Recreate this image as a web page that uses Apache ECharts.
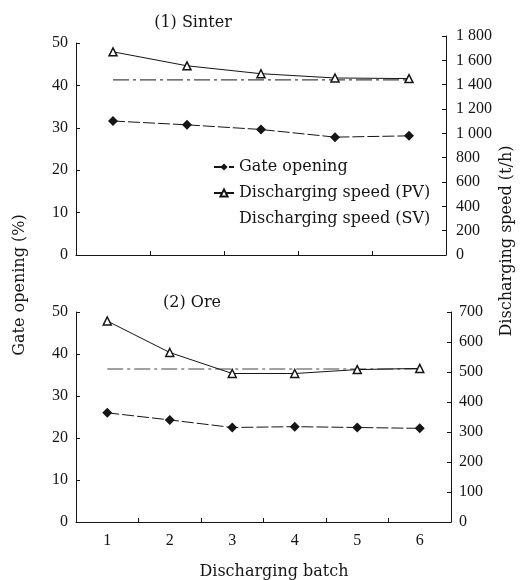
<!DOCTYPE html>
<html><head><meta charset="utf-8">
<script src="https://cdn.jsdelivr.net/npm/echarts@6/dist/echarts.min.js"></script>
<style>html,body{margin:0;padding:0;background:#fff}#c{width:524px;height:580px}</style>
</head><body><div id="c"></div>
<script>
// ---- data ----
const sinterBatches = ['1', '2', '3', '4', '5'];
const sinterGate = [31.6, 30.7, 29.6, 27.8, 28.1];
const sinterPV = [1670, 1555, 1490, 1455, 1450];
const sinterSV = [1440, 1440, 1440, 1440, 1440];

const oreBatches = ['1', '2', '3', '4', '5', '6'];
const oreGate = [26.0, 24.3, 22.5, 22.7, 22.5, 22.3];
const orePV = [670, 565, 495, 495, 508, 512];
const oreSV = [510, 510, 510, 510, 510, 510];

const gateRange = [0, 50, 10];
const sinterSpeedRange = [0, 1800, 200];
const oreSpeedRange = [0, 700, 100];

const seriesNames = ['Gate opening', 'Discharging speed (PV)', 'Discharging speed (SV)'];
const panelTitles = ['(1) Sinter', '(2) Ore'];
const leftAxisName = 'Gate opening (%)';
const rightAxisName = 'Discharging speed (t/h)';
const xAxisName = 'Discharging batch';

// ---- style ----
const INK = '#151515';
const SERIF = '"DejaVu Serif", serif';
const NUM = '"Liberation Serif", serif';

function fmtThousands(v) {
  if (v >= 1000) return Math.floor(v / 1000) + ' ' + String(v % 1000).padStart(3, '0');
  return String(v);
}

function xAx(gridIndex, data, showLabels, show) {
  return {
    type: 'category', gridIndex, data, show: show !== false,
    boundaryGap: true,
    axisLine: { lineStyle: { color: INK, width: 1 } },
    axisTick: { show: true, inside: true, length: 4, lineStyle: { color: INK } },
    axisLabel: { show: showLabels, color: INK, fontFamily: NUM, fontSize: 16, margin: 11 },
    splitLine: { show: false }
  };
}
function yAx(gridIndex, range, position, margin, formatter, show) {
  return {
    type: 'value', gridIndex, position, show: show !== false,
    min: range[0], max: range[1], interval: range[2],
    axisLine: { show: true, lineStyle: { color: INK, width: 1 } },
    axisTick: { show: true, inside: true, length: 4, lineStyle: { color: INK } },
    axisLabel: { color: INK, fontFamily: NUM, fontSize: 16, margin, formatter },
    splitLine: { show: false }
  };
}

function gateSeries(x, y, data) {
  return {
    name: seriesNames[0], type: 'line', xAxisIndex: x, yAxisIndex: y, data,
    symbol: 'diamond', symbolSize: 10,
    itemStyle: { color: INK },
    lineStyle: { color: INK, width: 1, type: [12, 3] }
  };
}
function pvSeries(x, y, data) {
  return {
    name: seriesNames[1], type: 'line', xAxisIndex: x, yAxisIndex: y, data,
    symbol: 'triangle', symbolSize: 8,
    itemStyle: { color: '#fff', borderColor: INK, borderWidth: 1.5 },
    lineStyle: { color: INK, width: 1 }
  };
}
function svSeries(x, y, data) {
  return {
    name: seriesNames[2], type: 'line', xAxisIndex: x, yAxisIndex: y, data,
    symbol: 'none',
    itemStyle: { color: '#444' },
    lineStyle: { color: '#444', width: 1.2, type: [16, 4, 3, 4] }
  };
}

const chart = echarts.init(document.getElementById('c'));
chart.setOption({
  animation: false,
  backgroundColor: '#fff',
  grid: [
    { left: 76, right: 78, top: 43, height: 212 },
    { left: 76, right: 78, top: 36, height: 219 },
    { left: 76, right: 73, top: 312, height: 210 }
  ],
  xAxis: [
    xAx(0, sinterBatches, false),
    xAx(1, sinterBatches, false, false),
    xAx(2, oreBatches, true)
  ],
  yAxis: [
    yAx(0, gateRange, 'left', 8),
    yAx(1, sinterSpeedRange, 'right', 10, fmtThousands),
    yAx(2, gateRange, 'left', 8),
    yAx(2, oreSpeedRange, 'right', 8, fmtThousands)
  ],
  legend: {
    orient: 'vertical', left: 208, top: 154, itemGap: 10,
    itemWidth: 20, itemHeight: 9,
    textStyle: { color: INK, fontFamily: SERIF, fontSize: 16 },
    data: [
      { name: seriesNames[0] },
      { name: seriesNames[1] },
      { name: seriesNames[2], icon: 'none' }
    ]
  },
  graphic: [
    { type: 'text', x: 193, y: 23, style: { text: panelTitles[0], font: '16px ' + SERIF, fill: INK, textAlign: 'center', textVerticalAlign: 'middle' } },
    { type: 'text', x: 192, y: 303, style: { text: panelTitles[1], font: '16px ' + SERIF, fill: INK, textAlign: 'center', textVerticalAlign: 'middle' } },
    { type: 'text', x: 20, y: 285, rotation: Math.PI / 2, style: { text: leftAxisName, font: '16px ' + SERIF, fill: INK, textAlign: 'center', textVerticalAlign: 'middle' } },
    { type: 'text', x: 507, y: 241, rotation: Math.PI / 2, style: { text: rightAxisName, font: '16px ' + SERIF, fill: INK, textAlign: 'center', textVerticalAlign: 'middle' } },
    { type: 'text', x: 274, y: 572, style: { text: xAxisName, font: '16px ' + SERIF, fill: INK, textAlign: 'center', textVerticalAlign: 'middle' } }
  ],
  series: [
    gateSeries(0, 0, sinterGate),
    svSeries(1, 1, sinterSV),
    pvSeries(1, 1, sinterPV),
    gateSeries(2, 2, oreGate),
    svSeries(2, 3, oreSV),
    pvSeries(2, 3, orePV)
  ]
});
</script>
</body></html>
